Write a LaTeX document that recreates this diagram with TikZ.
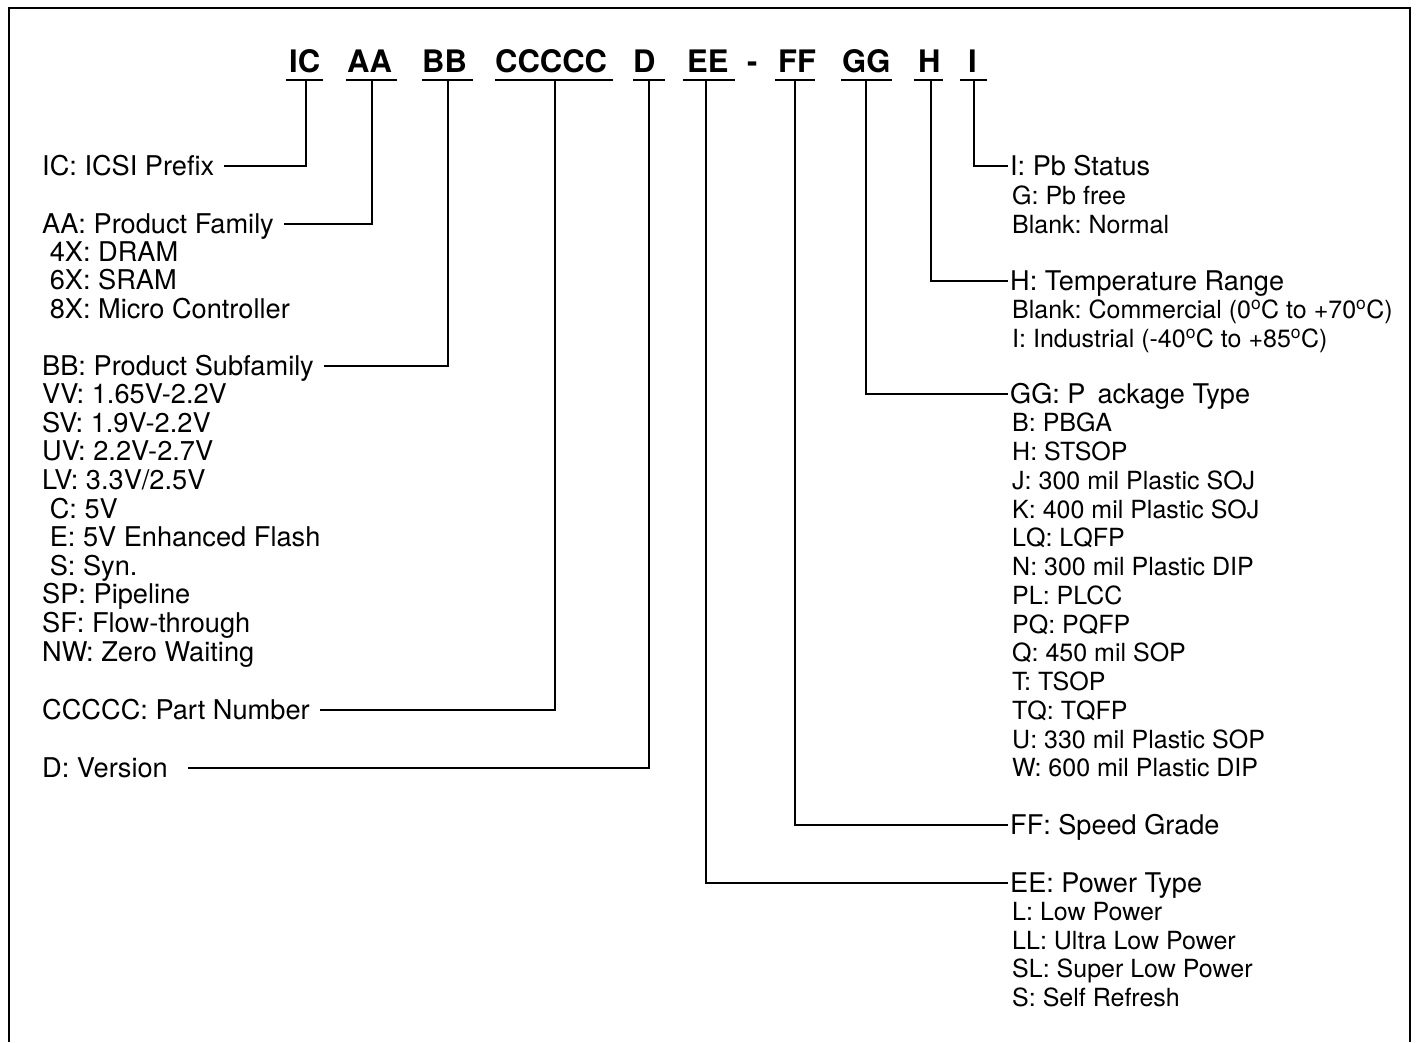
\documentclass[tikz,border=0pt]{standalone}
\usepackage{fontspec}
\setmainfont{TeX Gyre Heros}
\newcommand{\dg}{\textsuperscript{o}}
\frenchspacing
\begin{document}
\frenchspacing
\begin{tikzpicture}[x=1pt,y=-1pt,
  con/.style={line width=1.6pt},
  fr/.style={line width=2pt},
  code/.style={font=\fontsize{31}{31}\selectfont\bfseries, inner sep=0pt, anchor=base west},
  lh/.style={font=\fontsize{27.2}{28}\selectfont, inner sep=0pt, anchor=west, text height=18pt, text depth=0pt},
  rh/.style={font=\fontsize{27.1}{28}\selectfont, inner sep=0pt, anchor=west, text height=18pt, text depth=0pt},
  rs/.style={font=\fontsize{25}{28}\selectfont, inner sep=0pt, anchor=west, text height=18pt, text depth=0pt}]
\useasboundingbox (0,0) rectangle (1419,1042);
% frame
\draw[fr] (9,1042) -- (9,8) -- (1410,8) -- (1410,1042);

% header codes
\node[code] (cIC) at (289,72) {IC};
\node[code] (cAA) at (347,72) {AA};
\node[code] (cBB) at (422,72) {BB};
\node[code] (cCC) at (495,72) {CCCCC};
\node[code] (cD) at (633,72) {D};
\node[code] (cEE) at (687,72) {EE};
\node[code] (cdash) at (747,72) {-};
\node[code] (cFF) at (778,72) {FF};
\node[code] (cGG) at (842,72) {GG};
\node[code] (cH) at (918,72) {H};
\node[code] (cI) at (968,72) {I};

% underlines and tick points
\foreach \a/\b/\m/\n in {286/323/306/IC, 346/397/372/AA, 422/473/448/BB, 495/613/555/CC, 633/665/649/D, 683/735/706/EE, 775/815/795/FF, 841/892/866/GG, 914/943/931/H, 960/987/974/I}{
  \draw[con] (\a,80) -- (\b,80);
  \coordinate (t\n) at (\m,80);
}

% left column
\node[lh] (ic) at (42,166) {IC: ICSI Prefix};
\node[lh] (aa) at (42,224) {AA: Product Family};
\foreach \t [count=\i] in {{\ 4X: DRAM},{\ 6X: SRAM},{\ 8X: Micro Controller}}
  \node[lh] (aa\i) at (42,{224+28.4*\i}) {\t};
\node[lh] (bb) at (42,366) {BB: Product Subfamily};
\foreach \t [count=\i] in {{VV: 1.65V-2.2V},{SV: 1.9V-2.2V},{UV: 2.2V-2.7V},{LV: 3.3V/2.5V},{\ C: 5V},{\ E: 5V Enhanced Flash},{\ S: Syn.},{SP: Pipeline},{SF: Flow-through},{NW: Zero Waiting}}
  \node[lh] (bb\i) at (42,{366+28.6*\i}) {\t};
\node[lh] (cc) at (42,710) {CCCCC: Part Number};
\node[lh] (dd) at (42,768) {D: Version};

\draw[con] ([xshift=10pt]ic.east) -| (tIC);
\draw[con] ([xshift=10pt]aa.east) -| (tAA);
\draw[con] ([xshift=10pt]bb.east) -| (tBB);
\draw[con] ([xshift=10pt]cc.east) -| (tCC);
\draw[con] ([xshift=20pt]dd.east) -| (tD);

% right column
\node[rh] (ri) at (1010,166) {I: Pb Status};
\foreach \t [count=\i] in {{G: Pb free},{Blank: Normal}}
  \node[rs] (ri\i) at (1012,{166+29*\i}) {\t};
\node[rh] (rh) at (1010,281) {H: Temperature Range};
\foreach \t [count=\i] in {{Blank: Commercial (0\dg C to +70\dg C)},{I: Industrial (-40\dg C to +85\dg C)}}
  \node[rs] (rh\i) at (1012,{281+28.6*\i}) {\t};
\node[rh] (rg) at (1010,394) {GG: P\hspace{12pt}ackage Type};
\foreach \t [count=\i] in {{B: PBGA},{H: STSOP},{J: 300 mil Plastic SOJ},{K: 400 mil Plastic SOJ},{LQ: LQFP},{N: 300 mil Plastic DIP},{PL: PLCC},{PQ: PQFP},{Q: 450 mil SOP},{T: TSOP},{TQ: TQFP},{U: 330 mil Plastic SOP},{W: 600 mil Plastic DIP}}
  \node[rs] (rg\i) at (1012,{394+28.75*\i}) {\t};
\node[rh] (rf) at (1010,825) {FF: Speed Grade};
\node[rh] (re) at (1010,883) {EE: Power Type};
\foreach \t [count=\i] in {{L: Low Power},{LL: Ultra Low Power},{SL: Super Low Power},{S: Self Refresh}}
  \node[rs] (re\i) at (1012,{883+28.6*\i}) {\t};

\draw[con] (tI) |- ([xshift=-2pt]ri.west);
\draw[con] (tH) |- ([xshift=-2pt]rh.west);
\draw[con] (tGG) |- ([xshift=-2pt]rg.west);
\draw[con] (tFF) |- ([xshift=-2pt]rf.west);
\draw[con] (tEE) |- ([xshift=-2pt]re.west);
\end{tikzpicture}
\end{document}
